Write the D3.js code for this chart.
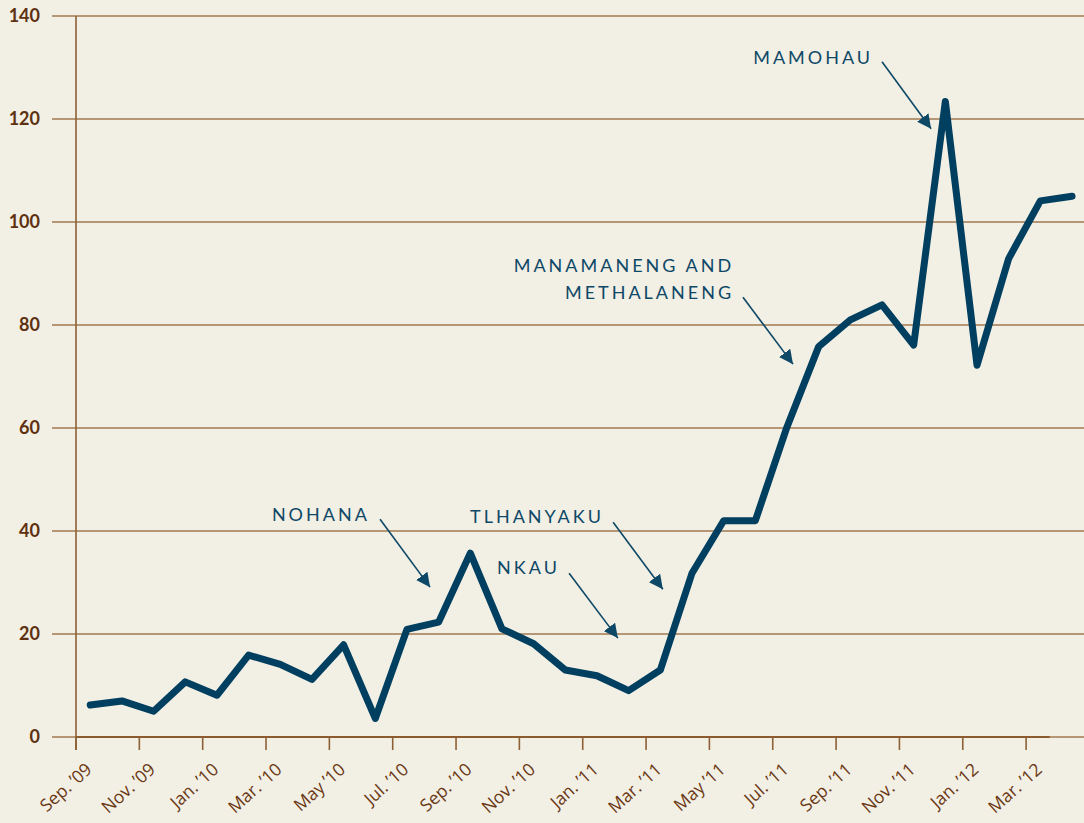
<!DOCTYPE html>
<html>
<head>
<meta charset="utf-8">
<script src="https://cdn.jsdelivr.net/npm/d3@7"></script>
<style>
  html, body { margin: 0; padding: 0; background: #f2efe4; }
  svg { display: block; }
  .ytick { font-family: Lato, "Open Sans", sans-serif; font-weight: 700; font-size: 18px; fill: #5e3110; }
  .xtick { font-family: "Open Sans", Lato, sans-serif; font-size: 17.5px; fill: #6a3814; }
  .note { font-family: Lato, "Open Sans", sans-serif; font-size: 18px; letter-spacing: 3px; fill: #0d4867; }
</style>
</head>
<body>
<div id="chart"></div>
<script>
// mois (index 0 = sept. 2009), valeurs lues au milieu de chaque mois
const monthLabels = ["Sep. ’09", "Nov. ’09", "Jan. ’10", "Mar. ’10", "May ’10", "Jul. ’10",
  "Sep. ’10", "Nov. ’10", "Jan. ’11", "Mar. ’11", "May ’11", "Jul. ’11",
  "Sep. ’11", "Nov. ’11", "Jan. ’12", "Mar. ’12"];
const values = [6.2, 7.0, 5.0, 10.7, 8.1, 15.9, 14.1, 11.2, 17.9, 3.6, 20.9, 22.3,
  35.7, 21.0, 18.1, 13.0, 11.9, 9.0, 13.0, 31.8, 42.0, 42.0, 60.2, 75.8,
  81.0, 83.9, 76.1, 123.4, 72.2, 92.9, 104.1, 105.0];
const yTicks = [0, 20, 40, 60, 80, 100, 120, 140];

// annotations : texte (fin), flèche (départ -> pointe), en unités de données
const notes = [
  { lines: ["NOHANA"], at: [9.28, 41.9], from: [9.6, 42.3], to: [11.18, 29.1] },
  { lines: ["TLHANYAKU"], at: [16.67, 41.6], from: [16.96, 41.7], to: [18.53, 28.7] },
  { lines: ["NKAU"], at: [15.28, 31.7], from: [15.57, 31.8], to: [17.11, 19.2] },
  { lines: ["MANAMANENG AND", "METHALANENG"], at: [20.78, 90.3], from: [21.06, 85.4], to: [22.64, 72.4] },
  { lines: ["MAMOHAU"], at: [25.17, 130.7], from: [25.45, 131.1], to: [27.0, 118.1] }
];

const width = 1084, height = 823;
const x = d3.scaleLinear().domain([0, 32]).range([76, 76 + 32 * 31.67]);
const y = d3.scaleLinear().domain([0, 140]).range([737, 16]);

const svg = d3.select("#chart").append("svg")
  .attr("width", width)
  .attr("height", height);

svg.append("rect").attr("width", width).attr("height", height).attr("fill", "#f2efe4");

svg.append("defs").append("marker")
  .attr("id", "arrow")
  .attr("viewBox", "0 -7 14 14")
  .attr("refX", 14)
  .attr("refY", 0)
  .attr("markerWidth", 14)
  .attr("markerHeight", 14)
  .attr("markerUnits", "userSpaceOnUse")
  .attr("orient", "auto")
  .append("path")
  .attr("d", "M0,-7L14,0L0,7Z")
  .attr("fill", "#0d4867");

// grille horizontale
svg.append("g")
  .selectAll("line")
  .data(yTicks)
  .enter().append("line")
  .attr("x1", 52).attr("x2", width)
  .attr("y1", d => y(d)).attr("y2", d => y(d))
  .attr("stroke", "#a17a52")
  .attr("stroke-width", 1.6);

// étiquettes de l'axe y
svg.append("g")
  .selectAll("text")
  .data(yTicks)
  .enter().append("text")
  .attr("class", "ytick")
  .attr("x", 40)
  .attr("y", d => y(d))
  .attr("dy", "0.35em")
  .attr("text-anchor", "end")
  .text(d => d);

// axe y
svg.append("line")
  .attr("x1", x(0)).attr("x2", x(0))
  .attr("y1", y(140)).attr("y2", y(0) + 13)
  .attr("stroke", "#8d6035")
  .attr("stroke-width", 1.6);

// axe x
svg.append("line")
  .attr("x1", x(0)).attr("x2", x(30.75))
  .attr("y1", y(0)).attr("y2", y(0))
  .attr("stroke", "#8d5c2e")
  .attr("stroke-width", 2.2);

const tickIdx = monthLabels.map((d, i) => i * 2);

svg.append("g")
  .selectAll("line")
  .data(tickIdx)
  .enter().append("line")
  .attr("x1", d => x(d)).attr("x2", d => x(d))
  .attr("y1", y(0)).attr("y2", y(0) + 13)
  .attr("stroke", "#8d6035")
  .attr("stroke-width", 1.6);

svg.append("g")
  .selectAll("text")
  .data(monthLabels)
  .enter().append("text")
  .attr("class", "xtick")
  .attr("text-anchor", "end")
  .attr("transform", (d, i) => `translate(${x(i * 2) + 17},${y(0) + 34}) rotate(-42)`)
  .text(d => d);

// courbe
const line = d3.line()
  .x((d, i) => x(i + 0.45))
  .y(d => y(d));

svg.append("path")
  .datum(values)
  .attr("d", line)
  .attr("fill", "none")
  .attr("stroke", "#003f5f")
  .attr("stroke-width", 7)
  .attr("stroke-linejoin", "round")
  .attr("stroke-linecap", "round");

// annotations
const note = svg.append("g")
  .selectAll("g")
  .data(notes)
  .enter().append("g");

note.append("line")
  .attr("x1", d => x(d.from[0])).attr("y1", d => y(d.from[1]))
  .attr("x2", d => x(d.to[0])).attr("y2", d => y(d.to[1]))
  .attr("stroke", "#0d4867")
  .attr("stroke-width", 1.6)
  .attr("marker-end", "url(#arrow)");

note.each(function(d) {
  const t = d3.select(this).append("text")
    .attr("class", "note")
    .attr("text-anchor", "end");
  d.lines.forEach((s, k) => {
    t.append("tspan")
      .attr("x", x(d.at[0]))
      .attr("y", y(d.at[1]) + k * 27)
      .text(s);
  });
});
</script>
</body>
</html>
